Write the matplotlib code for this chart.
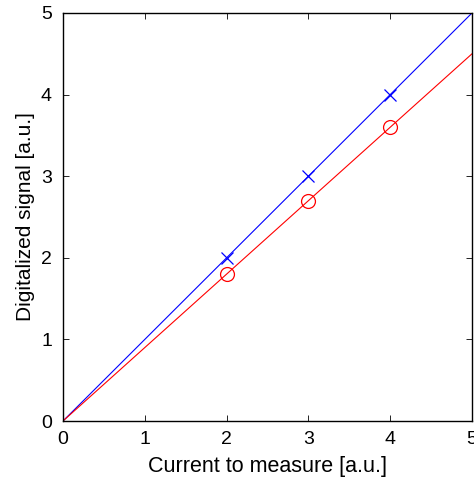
import numpy as np
import matplotlib
matplotlib.use('Agg')
import matplotlib.pyplot as plt

plt.rcParams['font.family'] = ['Liberation Sans', 'DejaVu Sans']

# data
line_x = [0, 5]
blue_line = [0, 5]
red_line = [0, 4.5]
meas_x = [2, 3, 4]
blue_pts = [2, 3, 4]
red_pts = [1.8, 2.7, 3.6]
ticks = [0, 1, 2, 3, 4, 5]

fig = plt.figure(figsize=(4.74, 4.83), dpi=100)
ax = fig.add_axes([63/474, 62/483, 409/474, 408/483])

ax.plot(line_x, blue_line, color='blue', lw=0.8)
ax.plot(line_x, red_line, color='red', lw=0.8)
ax.plot(meas_x, blue_pts, 'x', color='blue', ms=8, mew=0.9)
ax.plot(meas_x, red_pts, 'o', color='red', ms=10, mew=0.9, mfc='none')

ax.set_xlim(0, 5)
ax.set_ylim(0, 5)
ax.set_xticks(ticks)
ax.set_yticks(ticks)
ax.tick_params(direction='in', top=True, right=True, length=4, width=0.6, labelsize=14, pad=7)
ax.tick_params(axis='y', pad=8)
for s in ax.spines.values():
    s.set_linewidth(1.0)
ax.set_xlabel('Current to measure [a.u.]', fontsize=15.5, labelpad=6)
ax.set_ylabel('Digitalized signal [a.u.]', fontsize=15, labelpad=4)

fig.savefig('out.png', dpi=100)
